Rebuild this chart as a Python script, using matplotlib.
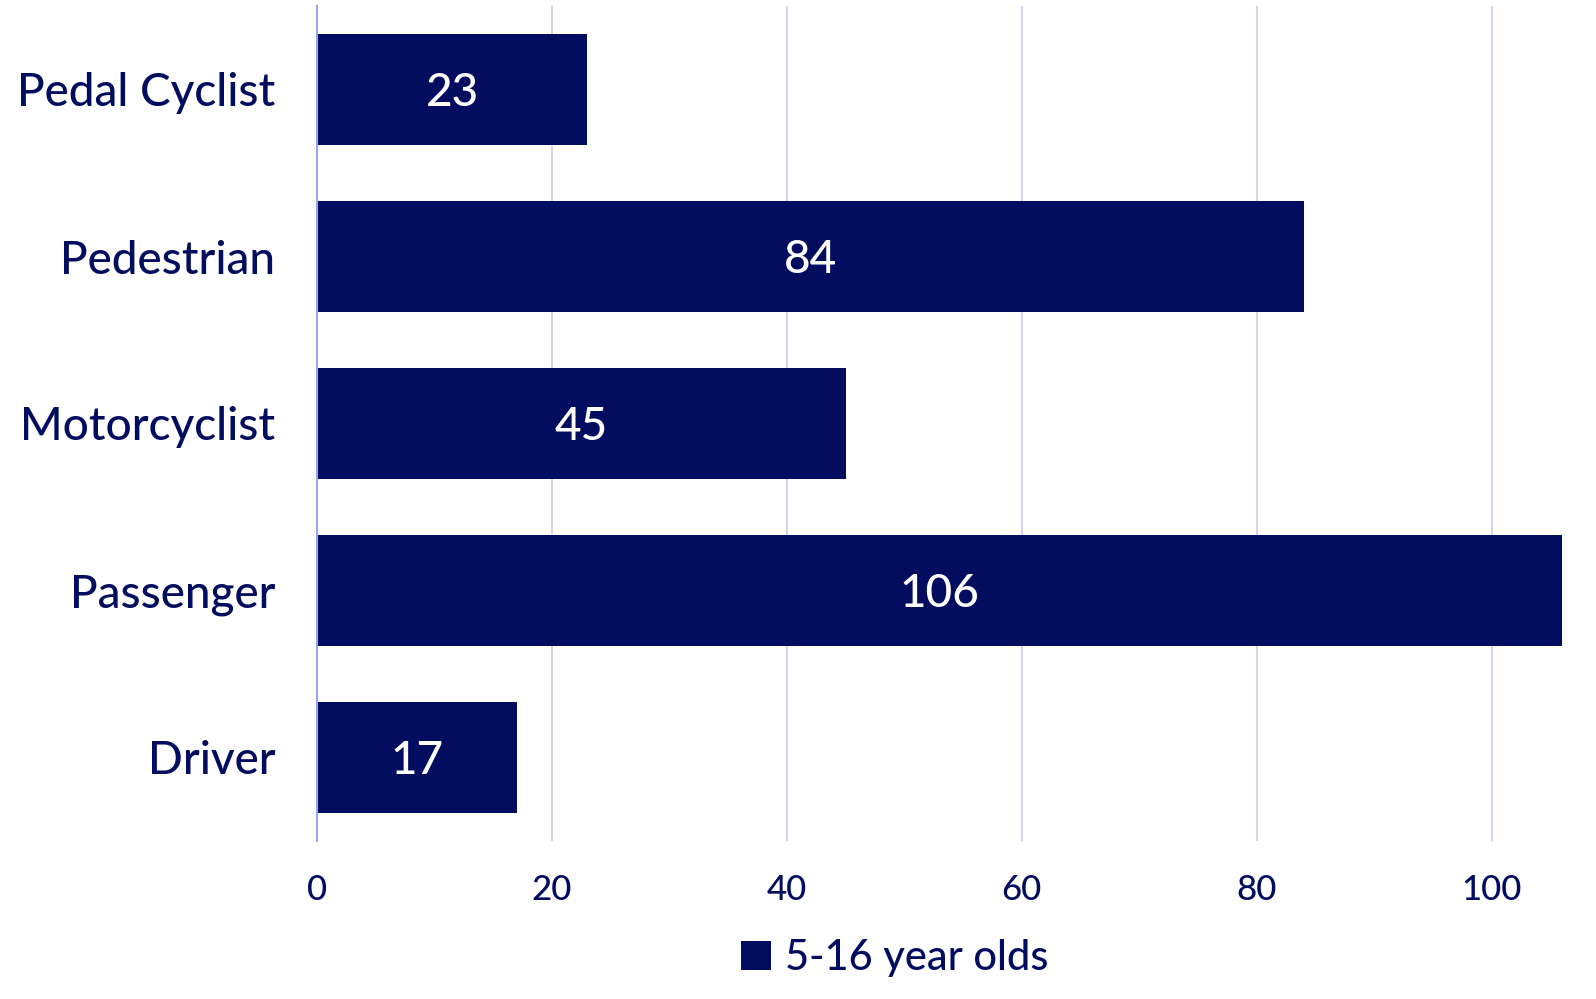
import matplotlib
matplotlib.use("Agg")
import matplotlib.pyplot as plt
from matplotlib.patches import Patch

categories = ["Pedal Cyclist", "Pedestrian", "Motorcyclist", "Passenger", "Driver"]
values = [23, 84, 45, 106, 17]
series_name = "5-16 year olds"
xticks = [0, 20, 40, 60, 80, 100]

NAVY = "#020d60"
GRID = "#ccd1f7"
AXIS = "#9aa4f5"

plt.rcParams["font.family"] = ["Lato", "DejaVu Sans"]
plt.rcParams["font.weight"] = "medium"

fig = plt.figure(figsize=(15.96, 9.99), dpi=100)
ax = fig.add_axes([317 / 1596, 1 - 841 / 999, (1562 - 317) / 1596, (841 - 6) / 999])

ypos = list(range(len(categories)))
bars = ax.barh(ypos, values, height=0.665, color=NAVY, zorder=3)
for b, v in zip(bars, values):
    ax.text(b.get_width() / 2, b.get_y() + b.get_height() / 2 + 0.02, str(v),
            ha="center", va="center", color="white", fontsize=33, zorder=4)

ax.set_xlim(0, 106)
ax.set_ylim(len(categories) - 0.5, -0.5)
ax.set_yticks(ypos)
ax.set_yticklabels(categories, fontsize=33, color=NAVY)
ax.set_xticks(xticks)
ax.set_xticklabels([str(t) for t in xticks], fontsize=25, color=NAVY)
ax.tick_params(axis="both", length=0)
ax.tick_params(axis="y", pad=30)
ax.tick_params(axis="x", pad=24)

ax.grid(axis="x", color=GRID, lw=1.3, zorder=0)
for s in ["top", "right", "bottom"]:
    ax.spines[s].set_visible(False)
ax.spines["left"].set_color(AXIS)
ax.spines["left"].set_linewidth(1.5)
ax.spines["left"].set_zorder(5)

handle = Patch(facecolor=NAVY, edgecolor="none")
fig.legend([handle], [series_name], loc="center", bbox_to_anchor=(895 / 1596, 1 - 958 / 999),
           frameon=False, fontsize=30, labelcolor=NAVY, handlelength=0.7, handleheight=0.7,
           handletextpad=0.35)

fig.savefig("out.png", dpi=100)
